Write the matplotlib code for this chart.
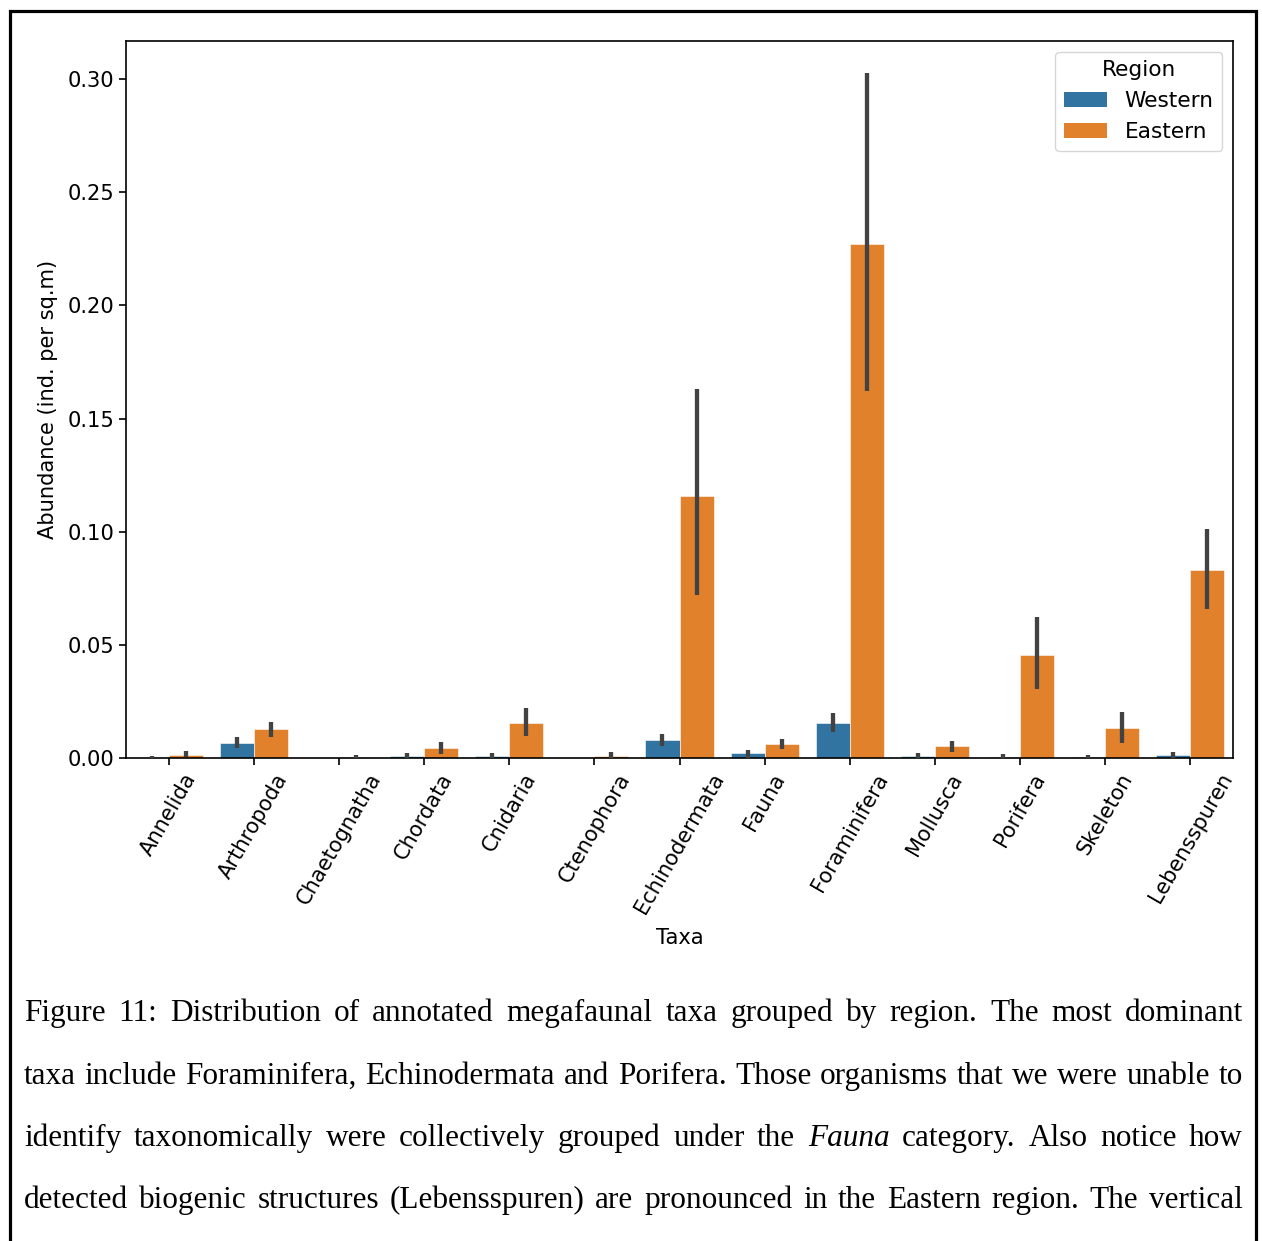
import numpy as np
import matplotlib
matplotlib.use("Agg")
import matplotlib.pyplot as plt
from matplotlib.patches import Rectangle, Patch

# данные
taxa = ["Annelida", "Arthropoda", "Chaetognatha", "Chordata", "Cnidaria", "Ctenophora",
        "Echinodermata", "Fauna", "Foraminifera", "Mollusca", "Porifera", "Skeleton",
        "Lebensspuren"]
regions = ["Western", "Eastern"]

western = [0.0002, 0.0068, 0.0, 0.0008, 0.0008, 0.0, 0.0081, 0.0020, 0.0155, 0.0007, 0.0006, 0.0003, 0.0013]
western_lo = [0.0, 0.0044, 0.0, 0.0, 0.0, 0.0, 0.0054, 0.0002, 0.0113, 0.0, 0.0, 0.0, 0.0002]
western_hi = [0.0010, 0.0093, 0.0, 0.0021, 0.0020, 0.0, 0.0106, 0.0034, 0.0197, 0.0022, 0.0018, 0.0013, 0.0027]

eastern = [0.0013, 0.0127, 0.0003, 0.0044, 0.0156, 0.0010, 0.1158, 0.0063, 0.2271, 0.0052, 0.0455, 0.0131, 0.0831]
eastern_lo = [0.0003, 0.0091, 0.0, 0.0019, 0.0097, 0.0, 0.0720, 0.0038, 0.1622, 0.0028, 0.0305, 0.0065, 0.0658]
eastern_hi = [0.0031, 0.0160, 0.0012, 0.0069, 0.0222, 0.0028, 0.1630, 0.0084, 0.3027, 0.0074, 0.0623, 0.0202, 0.1012]

colors = ["#3274a1", "#e1812c"]

caption_lines = [
    "Figure 11: Distribution of annotated megafaunal taxa grouped by region. The most dominant",
    "taxa include Foraminifera, Echinodermata and Porifera. Those organisms that we were unable to",
    "identify taxonomically were collectively grouped under the *Fauna* category. Also notice how",
    "detected biogenic structures (Lebensspuren) are pronounced in the Eastern region. The vertical",
]

W, H = 1262, 1241
fig = plt.figure(figsize=(W / 100, H / 100), dpi=100)
ax = fig.add_axes([126 / W, 1 - 758 / H, (1233 - 126) / W, (758 - 41) / H])

fs = 15.1
x = np.arange(len(taxa))
bw = 0.4
for j, (vals, lo, hi) in enumerate([(western, western_lo, western_hi),
                                     (eastern, eastern_lo, eastern_hi)]):
    pos = x + (j - 0.5) * bw
    ax.bar(pos, vals, width=bw, color=colors[j], edgecolor="white", linewidth=0.4)
    ax.vlines(pos, lo, hi, color="#424242", linewidth=3.1, zorder=3)

ax.set_xlim(-0.5, len(taxa) - 0.5)
ax.set_ylim(0, 0.3168)
ax.set_yticks([0, 0.05, 0.10, 0.15, 0.20, 0.25, 0.30])
ax.set_yticklabels(["0.00", "0.05", "0.10", "0.15", "0.20", "0.25", "0.30"], fontsize=fs)
ax.set_xticks(x)
ax.set_xticklabels(taxa, rotation=60, fontsize=fs)
ax.tick_params(length=5, width=1.2)
for s in ax.spines.values():
    s.set_linewidth(1.2)
ax.set_xlabel("Taxa", fontsize=fs, labelpad=8)
ax.set_ylabel("Abundance (ind. per sq.m)", fontsize=fs, labelpad=7)

handles = [Patch(facecolor=c) for c in colors]
leg = ax.legend(handles, regions, title="Region", loc="upper right", fontsize=15.6,
                title_fontsize=15.6, borderaxespad=0.5)

# рамка страницы
fig.patches.append(Rectangle((9.5 / W, -0.1), (1256 - 9.5) / W, 1.1 - 11 / H,
                             transform=fig.transFigure, fill=False, lw=2.3,
                             edgecolor="black"))

# подпись, выровненная по ширине
fig.canvas.draw()
r = fig.canvas.get_renderer()
serif = "Liberation Serif"
cf = 20
tmp = [fig.text(0, 0, ln.replace("*", ""), fontsize=cf, family=serif) for ln in caption_lines]
natural = max(t.get_window_extent(r).width for t in tmp)
for t in tmp:
    t.remove()
cf = cf * (1243 - 24) * 0.992 / natural

x0, x1 = 24, 1243
baselines = [1021, 1084, 1146, 1208]
for ln, yb in zip(caption_lines, baselines):
    words = ln.split()
    texts = []
    for wd in words:
        it = wd.startswith("*")
        t = fig.text(0, 1 - yb / H, wd.replace("*", ""), fontsize=cf, family=serif,
                     style="italic" if it else "normal", va="baseline", ha="left")
        texts.append(t)
    widths = [t.get_window_extent(r).width for t in texts]
    gap = (x1 - x0 - sum(widths)) / (len(words) - 1)
    xp = x0
    for t, wdt in zip(texts, widths):
        t.set_x(xp / W)
        xp += wdt + gap

fig.savefig("out.png", dpi=100)
